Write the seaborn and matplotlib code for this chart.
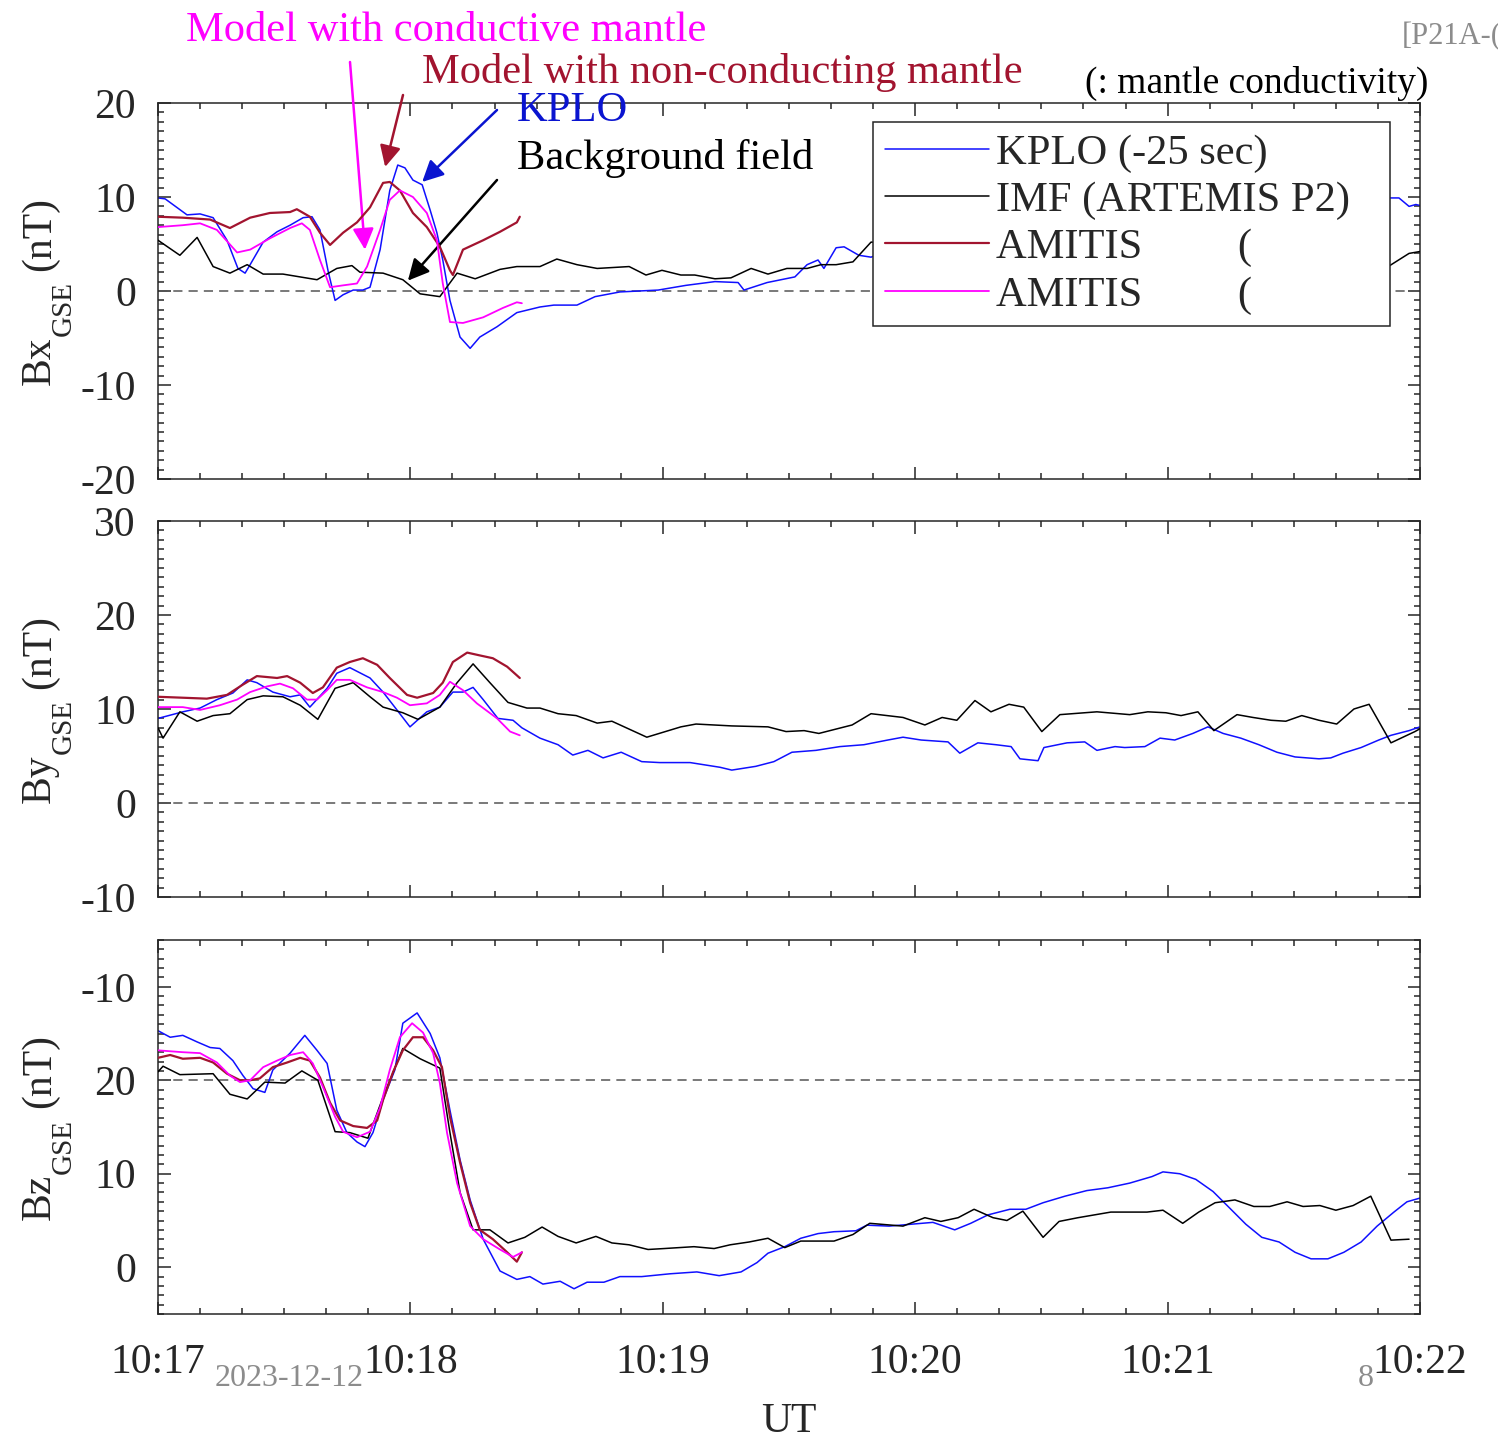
import numpy as np
import pandas as pd
import matplotlib
matplotlib.use("Agg")
import matplotlib.pyplot as plt
from matplotlib.ticker import MultipleLocator, FixedLocator, FixedFormatter
from matplotlib.lines import Line2D
import seaborn as sns

# ---------------- data (time in seconds after 10:17:00 UT) ----------------
# Bx
bx_kplo_t = [0, 1.7, 6.9, 10.0, 13.1, 16.4, 19.0, 20.7, 21.9, 25.0, 28.3, 31.4, 34.5, 36.6, 38.5, 40.4,
             42.1, 44.0, 46.4, 48.7, 50.4, 52.8, 55.1, 57.0, 58.7, 60.6, 62.8, 64.7, 66.3, 67.7, 69.4,
             71.8, 74.2, 76.5, 80.6, 85.3, 90.8, 94.1, 99.6, 103.9, 109.8, 118.9, 125.5, 132.4, 137.9,
             139.3, 144.8, 151.4, 154.3, 156.9, 158.3, 161.2, 163.1, 166.6, 169.5, 175, 200, 230, 260,
             285, 292.8, 295.0, 297.4, 299.0, 300]
bx_kplo_v = [9.9, 9.8, 8.1, 8.2, 7.8, 5.4, 2.4, 1.9, 2.8, 5.2, 6.3, 7.0, 7.8, 7.9, 6.5, 2.2,
             -1.0, -0.4, 0.1, 0.1, 0.4, 4.4, 10.7, 13.4, 13.1, 11.8, 11.3, 8.6, 6.2, 3.3, -1.0,
             -4.9, -6.1, -4.9, -3.8, -2.3, -1.7, -1.5, -1.5, -0.6, -0.1, 0.1, 0.6, 1.0, 0.9,
             0.1, 0.9, 1.5, 2.8, 3.3, 2.4, 4.6, 4.7, 3.8, 3.6, 4.5, 5.0, 6.0, 7.0,
             8.5, 9.9, 9.9, 9.0, 9.2, 9.1]
bx_imf_t = [0, 5.2, 9.3, 13.1, 17.1, 21.2, 25.0, 29.7, 37.8, 42.5, 46.1, 48.0, 53.5, 58.2, 62.3, 67.0,
            71.1, 75.4, 81.3, 85.3, 90.8, 94.8, 99.6, 104.4, 112.0, 116.0, 119.8, 124.3, 127.6, 132.4,
            136.2, 141.0, 145.0, 149.5, 154.3, 157.6, 161.2, 165.2, 169.5, 180, 230, 280, 292.8, 297.4, 300]
bx_imf_v = [5.4, 3.8, 5.7, 2.6, 1.9, 2.8, 1.8, 1.8, 1.2, 2.4, 2.7, 2.0, 1.9, 1.2, -0.3, -0.6,
            1.9, 1.3, 2.3, 2.6, 2.6, 3.4, 2.8, 2.4, 2.6, 1.7, 2.2, 1.7, 1.7, 1.3,
            1.4, 2.4, 1.8, 2.4, 2.4, 2.8, 2.8, 3.1, 5.2, 5.0, 4.0, 3.0, 2.7, 4.0, 4.2]
bx_nc_t = [0, 5.9, 12.4, 17.1, 21.9, 26.6, 31.4, 33.0, 36.1, 38.5, 40.9, 44.0, 47.3, 50.4, 53.5, 55.1,
           57.5, 60.6, 63.9, 67.0, 69.4, 70.1, 72.5, 77.3, 81.3, 85.3, 86.0]
bx_nc_v = [7.9, 7.8, 7.6, 6.7, 7.8, 8.3, 8.4, 8.7, 7.9, 6.2, 4.9, 6.2, 7.3, 8.9, 11.5, 11.6,
           10.7, 8.3, 6.8, 4.7, 2.2, 1.7, 4.4, 5.4, 6.3, 7.3, 7.9]
bx_c_t = [0, 5.9, 10.0, 14.0, 18.8, 21.9, 26.6, 31.4, 34.2, 36.1, 38.5, 40.9, 44.0, 47.3, 49.7, 52.8,
          55.1, 57.5, 60.6, 63.9, 66.3, 67.7, 69.4, 72.5, 77.3, 82.0, 85.3, 86.5]
bx_c_v = [6.8, 7.0, 7.2, 6.5, 4.1, 4.4, 5.6, 6.7, 7.2, 6.5, 3.3, 0.4, 0.6, 0.8, 2.6, 6.5,
          9.7, 10.7, 10.0, 8.3, 5.4, 0.8, -3.3, -3.4, -2.8, -1.8, -1.2, -1.3]

# By
by_kplo_t = [0, 5.9, 10.0, 14.0, 17.8, 21.2, 23.5, 27.3, 31.4, 33.8, 36.1, 40.2, 42.5, 45.6, 50.4, 53.5,
             56.8, 59.9, 63.9, 67.0, 70.1, 72.5, 74.9, 77.3, 80.8, 84.4, 86.5, 90.8, 95.1, 98.6, 102.2,
             105.8, 110.1, 115.0, 119.3, 126.5, 133.6, 136.4, 142.1, 146.4, 150.7, 156.4, 162.1, 167.8,
             173.5, 177.1, 181.4, 187.8, 190.6, 194.9, 199.2, 202.8, 204.9, 209.2, 210.6, 216.1, 220.3,
             223.2, 227.5, 229.8, 234.6, 238.2, 241.7, 246.0, 249.6, 253.2, 257.4, 261.7, 266.0, 270.3,
             276.0, 278.8, 281.7, 286.0, 290.2, 293.1, 297.4, 300]
by_kplo_v = [9.0, 9.7, 10.1, 11.0, 11.7, 13.1, 12.8, 11.8, 11.3, 11.5, 10.2, 12.2, 13.8, 14.4, 13.3, 11.8,
             9.9, 8.1, 9.7, 10.2, 11.8, 11.8, 12.3, 11.0, 9.0, 8.8, 8.0, 6.9, 6.2, 5.1, 5.6,
             4.8, 5.4, 4.4, 4.3, 4.3, 3.8, 3.5, 3.9, 4.4, 5.4, 5.6, 6.0, 6.2,
             6.7, 7.0, 6.7, 6.5, 5.3, 6.4, 6.2, 6.0, 4.7, 4.5, 5.9, 6.4, 6.5,
             5.6, 6.0, 5.9, 6.0, 6.9, 6.7, 7.4, 8.1, 7.4, 6.9, 6.2, 5.4, 4.9,
             4.7, 4.8, 5.3, 5.9, 6.7, 7.2, 7.7, 8.1]
by_imf_t = [0, 1.2, 5.2, 9.3, 13.1, 17.1, 21.2, 25.0, 29.7, 33.8, 38.0, 42.1, 46.4, 50.4, 53.5, 58.2,
            61.8, 67.0, 71.1, 74.9, 78.9, 83.2, 87.7, 90.8, 95.1, 99.4, 104.4, 107.9, 116.2, 124.3,
            127.9, 136.4, 145.0, 149.3, 153.6, 157.1, 165.0, 169.5, 177.1, 182.3, 186.4, 189.9, 194.2,
            198.0, 202.3, 205.8, 210.1, 214.4, 223.2, 231.0, 235.3, 239.6, 243.2, 247.2, 251.0, 256.5,
            260.3, 264.6, 268.1, 271.9, 276.0, 280.2, 284.3, 287.9, 293.1, 298.8, 300]
by_imf_v = [8.0, 6.9, 9.7, 8.7, 9.3, 9.5, 11.0, 11.4, 11.3, 10.4, 8.9, 12.2, 12.8, 11.3, 10.2, 9.6,
            8.9, 10.2, 12.8, 14.8, 12.8, 10.7, 10.1, 10.1, 9.5, 9.3, 8.5, 8.7, 7.0, 8.1,
            8.4, 8.2, 8.1, 7.6, 7.7, 7.4, 8.3, 9.5, 9.1, 8.3, 9.1, 8.8, 10.9,
            9.7, 10.5, 10.2, 7.6, 9.4, 9.7, 9.4, 9.7, 9.6, 9.3, 9.7, 7.7, 9.4,
            9.1, 8.8, 8.7, 9.3, 8.8, 8.4, 10.0, 10.5, 6.4, 7.6, 7.9]
by_nc_t = [0, 5.9, 11.6, 16.4, 20.2, 23.5, 28.3, 30.7, 33.8, 36.8, 39.2, 42.5, 45.6, 48.7, 52.1, 55.1,
           59.2, 61.6, 65.4, 67.7, 70.1, 73.5, 76.5, 79.6, 83.0, 86.0]
by_nc_v = [11.3, 11.2, 11.1, 11.5, 12.6, 13.5, 13.3, 13.5, 12.8, 11.7, 12.3, 14.4, 15.0, 15.4, 14.7, 13.3,
           11.5, 11.2, 11.7, 12.8, 15.0, 16.0, 15.7, 15.4, 14.5, 13.3]
by_c_t = [0, 5.9, 10.0, 14.7, 18.8, 21.9, 25.9, 29.0, 32.1, 35.4, 37.8, 40.2, 42.5, 45.6, 49.7, 53.5,
          56.8, 59.9, 63.9, 67.0, 69.4, 72.5, 75.8, 80.6, 83.7, 86.0]
by_c_v = [10.2, 10.2, 9.9, 10.4, 11.0, 11.8, 12.4, 12.7, 12.2, 11.0, 11.0, 12.0, 13.1, 13.1, 12.3, 11.8,
          11.2, 10.4, 10.6, 11.5, 12.9, 12.0, 10.6, 9.0, 7.6, 7.2]

# Bz
bz_kplo_t = [0, 2.9, 5.9, 9.3, 12.4, 14.7, 17.8, 20.2, 22.6, 25.4, 27.3, 31.4, 34.9, 37.8, 40.2, 42.5,
             44.9, 47.3, 49.2, 51.1, 53.5, 56.3, 58.2, 61.6, 64.7, 67.0, 69.4, 71.8, 74.2, 77.3, 81.3,
             85.3, 88.4, 91.5, 95.6, 98.9, 102.0, 106.0, 109.8, 115.0, 121.7, 128.1, 133.4, 138.6, 142.4,
             145.0, 149.0, 152.8, 156.9, 160.7, 165.9, 168.5, 173.8, 179.0, 184.2, 189.4, 193.2, 197.3,
             202.5, 206.3, 210.4, 215.6, 220.8, 225.8, 231.0, 236.3, 238.9, 242.9, 246.7, 250.8, 254.6,
             258.6, 262.4, 266.5, 270.3, 274.1, 278.1, 281.9, 286.0, 289.8, 293.8, 296.9, 300]
bz_kplo_v = [25.3, 24.6, 24.8, 24.1, 23.5, 23.4, 22.1, 20.5, 19.1, 18.7, 21.1, 22.9, 24.8, 23.2, 21.8, 16.8,
             14.4, 13.4, 12.9, 14.4, 17.9, 21.1, 26.1, 27.2, 25.0, 22.4, 16.8, 11.5, 7.2, 3.0, -0.4,
             -1.3, -1.0, -1.8, -1.5, -2.3, -1.6, -1.6, -1.0, -1.0, -0.7, -0.5, -0.9, -0.5, 0.5,
             1.5, 2.2, 3.1, 3.6, 3.8, 3.9, 4.5, 4.4, 4.6, 4.8, 4.0, 4.7, 5.6,
             6.2, 6.2, 6.9, 7.6, 8.2, 8.5, 9.0, 9.7, 10.2, 10.0, 9.4, 8.1, 6.4,
             4.6, 3.2, 2.7, 1.6, 0.9, 0.9, 1.6, 2.7, 4.4, 5.9, 7.0, 7.4]
bz_imf_t = [0, 1.2, 5.2, 13.1, 17.1, 21.2, 25.4, 30.2, 34.2, 38.0, 42.1, 45.6, 49.9, 53.5, 58.2, 62.3,
            67.0, 69.4, 71.8, 74.9, 78.9, 83.2, 87.2, 91.3, 95.1, 99.4, 104.1, 107.9, 112.0, 116.5,
            120.3, 127.4, 132.2, 136.0, 140.5, 145.0, 149.0, 152.8, 160.7, 165.2, 169.2, 177.1, 182.3,
            186.1, 190.2, 194.0, 198.5, 201.8, 205.6, 210.4, 214.2, 218.7, 226.5, 235.1, 238.9, 243.6,
            247.4, 251.3, 256.0, 260.5, 264.3, 268.4, 272.2, 276.2, 280.0, 284.1, 288.3, 293.1, 297.4]
bz_imf_v = [20.9, 21.5, 20.6, 20.7, 18.5, 18.0, 19.8, 19.7, 21.0, 20.0, 14.5, 14.4, 13.8, 18.2, 23.4, 22.3,
            21.3, 14.4, 8.0, 4.0, 4.0, 2.6, 3.2, 4.3, 3.3, 2.6, 3.3, 2.6, 2.4, 1.9,
            2.0, 2.2, 2.0, 2.4, 2.7, 3.1, 2.1, 2.8, 2.8, 3.5, 4.7, 4.4, 5.3,
            4.9, 5.3, 6.2, 5.3, 5.0, 6.0, 3.2, 4.9, 5.3, 5.9, 5.9, 6.1, 4.7,
            5.9, 6.9, 7.2, 6.5, 6.5, 7.0, 6.5, 6.6, 6.1, 6.6, 7.6, 2.9, 3.0]
bz_nc_t = [0, 2.9, 5.9, 10.0, 13.1, 16.4, 19.5, 21.9, 24.2, 27.3, 30.7, 33.8, 36.1, 38.5, 40.9, 43.3,
           46.4, 49.7, 52.1, 53.5, 55.9, 58.2, 60.6, 63.0, 65.4, 67.5, 69.4, 71.8, 74.2, 76.5, 79.6,
           83.0, 85.3, 86.5]
bz_nc_v = [22.4, 22.7, 22.3, 22.4, 21.9, 20.7, 20.0, 20.0, 20.2, 21.4, 21.9, 22.4, 22.1, 20.3, 17.6, 15.7,
           15.1, 14.9, 15.7, 17.9, 20.9, 23.2, 24.6, 24.6, 23.2, 21.4, 16.1, 11.2, 6.9, 4.0, 3.0,
           1.6, 0.6, 1.6]
bz_c_t = [0, 2.9, 5.9, 10.0, 14.0, 17.1, 19.5, 21.9, 25.0, 28.3, 31.4, 34.5, 36.8, 39.2, 42.1, 44.0,
          47.3, 50.4, 52.8, 55.1, 57.5, 60.4, 63.0, 65.4, 67.0, 68.7, 71.1, 74.2, 77.3, 81.3, 84.4, 86.5]
bz_c_v = [23.2, 23.1, 23.0, 22.9, 21.9, 20.5, 19.8, 20.0, 21.4, 22.1, 22.7, 23.0, 21.8, 19.3, 16.1, 14.5,
          13.9, 14.5, 17.1, 21.1, 24.6, 26.1, 25.1, 22.9, 19.7, 14.4, 9.0, 4.4, 3.0, 1.9, 1.1, 1.6]

legend_labels = ["KPLO (-25 sec)", "IMF (ARTEMIS P2)", "AMITIS         (", "AMITIS         ("]
ylabel_main = ["Bx", "By", "Bz"]
ylabel_sub = "GSE"
ylabel_unit = "(nT)"
panel_ylims = [(-20, 20), (-10, 30), (-5, 35)]
panel_yticks = [[-20, -10, 0, 10, 20], [-10, 0, 10, 20, 30], [0, 10, 20, 30]]
panel_yticklabels = [["-20", "-10", "0", "10", "20"], ["-10", "0", "10", "20", "30"],
                     ["0", "10", "20", "-10"]]
panel_ref = [0, 0, 20]
xtick_secs = [0, 60, 120, 180, 240, 300]
xtick_labels = ["10:17", "10:18", "10:19", "10:20", "10:21", "10:22"]

panels = [
    [(bx_kplo_t, bx_kplo_v), (bx_imf_t, bx_imf_v), (bx_nc_t, bx_nc_v), (bx_c_t, bx_c_v)],
    [(by_kplo_t, by_kplo_v), (by_imf_t, by_imf_v), (by_nc_t, by_nc_v), (by_c_t, by_c_v)],
    [(bz_kplo_t, bz_kplo_v), (bz_imf_t, bz_imf_v), (bz_nc_t, bz_nc_v), (bz_c_t, bz_c_v)],
]

# ---------------- style ----------------
sns.set_style("ticks")
plt.rcParams["font.family"] = ["Liberation Serif", "DejaVu Serif"]

colors = ["#1010ff", "#000000", "#a2142f", "#ff00ff"]
widths = [1.1, 1.1, 1.6, 1.3]
axc = "#262626"
FS = 30
FT = 30.6

W, H = 1498, 1440
fig = plt.figure(figsize=(W / 100, H / 100), dpi=100)

def fx(px):
    return px / W
def fy(py):
    return 1 - py / H

boxes = [(103, 479), (521, 897), (940, 1314)]
L, R = 158, 1420
axes = []
for i, (top, bot) in enumerate(boxes):
    ax = fig.add_axes([L / W, 1 - bot / H, (R - L) / W, (bot - top) / H])
    axes.append(ax)
    ax.axhline(panel_ref[i], color="#555555", lw=1.1, ls=(0, (6, 4)), zorder=1)
    for j, (t, v) in enumerate(panels[i]):
        df = pd.DataFrame({"t": t, "B": v})
        sns.lineplot(data=df, x="t", y="B", ax=ax, color=colors[j], lw=widths[j],
                     estimator=None, sort=False, zorder=2 + j)
    ax.set_xlim(0, 300)
    ax.set_ylim(*panel_ylims[i])
    ax.xaxis.set_major_locator(FixedLocator(xtick_secs))
    ax.xaxis.set_minor_locator(MultipleLocator(10))
    ax.yaxis.set_major_locator(FixedLocator(panel_yticks[i]))
    ax.yaxis.set_major_formatter(FixedFormatter(panel_yticklabels[i]))
    ax.yaxis.set_minor_locator(MultipleLocator(1))
    ax.tick_params(which="both", direction="in", top=True, right=True, color=axc, width=1.1)
    ax.tick_params(which="major", length=9)
    ax.tick_params(which="minor", length=4.5)
    ax.tick_params(axis="y", labelsize=FS, labelcolor=axc, pad=16)
    ax.tick_params(axis="x", labelsize=FS, labelcolor=axc, pad=21)
    if i < 2:
        ax.set_xticklabels([])
        ax.set_xlabel("")
    else:
        ax.set_xticklabels(xtick_labels)
        ax.set_xlabel("UT", fontsize=FS, color=axc, labelpad=15)
    ax.set_ylabel("")
    for sp in ax.spines.values():
        sp.set_color(axc)
        sp.set_linewidth(1.1)

# y labels built from pieces (deep subscript like the reference)
renderer = fig.canvas.get_renderer()
def text_w(s, fs):
    t = fig.text(0, 0, s, fontsize=fs)
    w = t.get_window_extent(renderer).width
    t.remove()
    return w

FSUB = FS * 0.7
gap = 0.25 * FS * 100 / 72
wS = text_w(ylabel_sub, FSUB)
wU = text_w(ylabel_unit, FS)
for i, (top, bot) in enumerate(boxes):
    yc = (top + bot) / 2
    wB = text_w(ylabel_main[i], FS)
    y0 = yc + (wB + wS + gap + wU) / 2
    kw = dict(rotation=90, rotation_mode="anchor", ha="left", va="baseline", color=axc)
    fig.text(fx(50), fy(y0), ylabel_main[i], fontsize=FS, **kw)
    fig.text(fx(71), fy(y0 - wB), ylabel_sub, fontsize=FSUB, **kw)
    fig.text(fx(50), fy(y0 - wB - wS - gap), ylabel_unit, fontsize=FS, **kw)

# legend on first panel (box spans 873..1390 px horizontally, 122..321 px vertically)
ax0 = axes[0]
handles = [Line2D([], [], color=colors[j], lw=widths[j]) for j in range(4)]
lx0 = (873 - L) / (R - L)
lx1 = (1390 - L) / (R - L)
ly1 = (479 - 122) / (479 - 103)
ly0 = (479 - 321) / (479 - 103)
leg = ax0.legend(handles, legend_labels, loc="upper left",
                 bbox_to_anchor=(lx0, ly0, lx1 - lx0, ly1 - ly0), mode="expand",
                 borderaxespad=0, fontsize=FT, frameon=True, fancybox=False,
                 handlelength=2.45, handletextpad=0.17, labelspacing=0.2, borderpad=0.28)
leg.get_frame().set_edgecolor(axc)
leg.get_frame().set_linewidth(1.1)
leg.get_frame().set_alpha(1)

ann = [
    ("Model with conductive mantle", "#ff00ff", 186, 31, (49.2, 4.4), (350, 62)),
    ("Model with non-conducting mantle", "#a2142f", 422, 73, (54.0, 13.2), (403, 95)),
    ("KPLO", "#0a14d0", 517, 111, (62.8, 11.6), (497, 110)),
    ("Background field", "#000000", 517, 158, (59.4, 1.1), (497, 180)),
]
for txt, col, tx, ty, head, tail in ann:
    fig.text(fx(tx), fy(ty), txt, color=col, fontsize=FT, ha="left", va="center")
    ax0.annotate("", xy=head, xycoords="data", xytext=(fx(tail[0]), fy(tail[1])),
                 textcoords="figure fraction",
                 arrowprops=dict(arrowstyle="-|>", color=col, lw=1.8, mutation_scale=32,
                                 shrinkA=0, shrinkB=0), annotation_clip=False)

fig.text(fx(1085), fy(83), "(: mantle conductivity)", fontsize=27, color="black", ha="left", va="center")
fig.text(fx(1402), fy(37), "[P21A-(", fontsize=22, color="#8c8c8c", ha="left", va="center")
fig.text(fx(215), fy(1378), "2023-12-12", fontsize=23, color="#8c8c8c", ha="left", va="center")
fig.text(fx(1358), fy(1379), "8", fontsize=23, color="#8c8c8c", ha="left", va="center")

fig.savefig("out.png", dpi=100, facecolor="white")
